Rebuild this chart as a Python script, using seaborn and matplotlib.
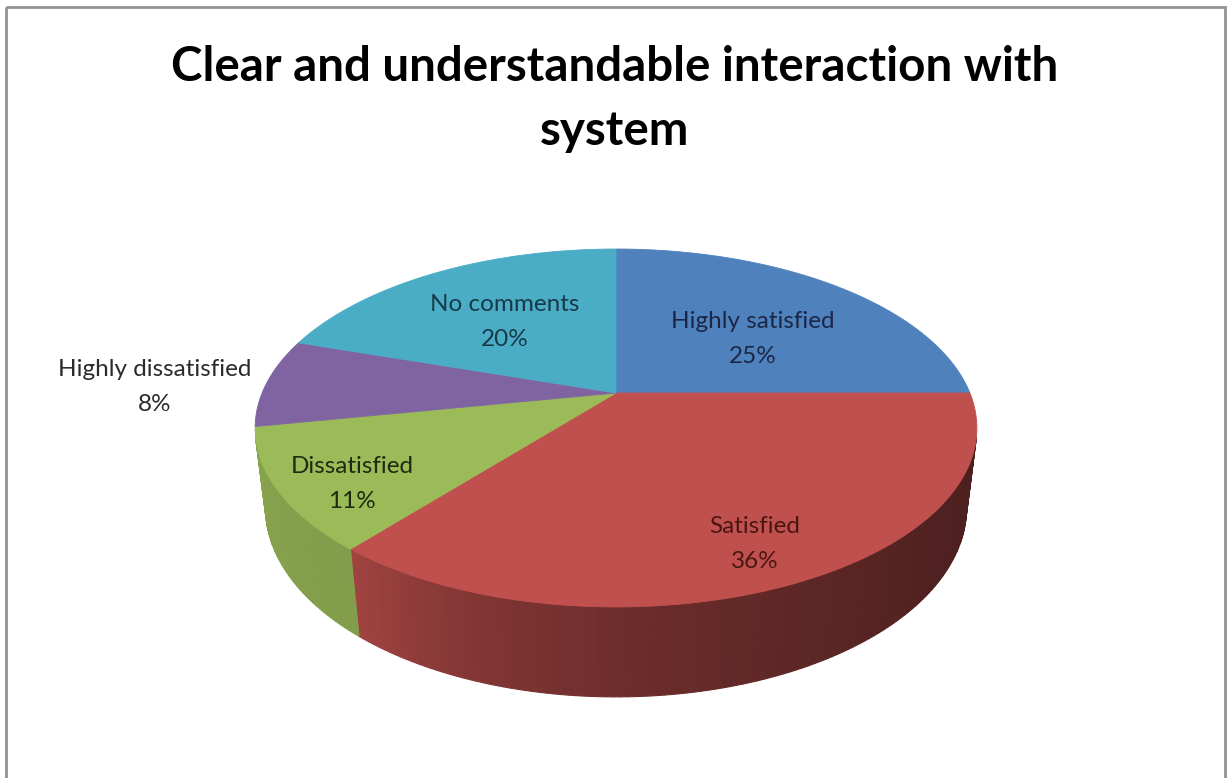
import numpy as np
import matplotlib
matplotlib.use("Agg")
import matplotlib.pyplot as plt
import seaborn as sns
from matplotlib.patches import Polygon, Rectangle

# ---- data -------------------------------------------------------------
categories = ["Highly satisfied", "Satisfied", "Dissatisfied",
              "Highly dissatisfied", "No comments"]
shares = [25, 36, 11, 8, 20]
slice_colors = ["#4F81BD", "#C0504D", "#9BBB59", "#8064A2", "#4BACC6"]
title_text = "Clear and understandable interaction with\nsystem"

# ---- style ------------------------------------------------------------
sns.set_theme(style="white")
plt.rcParams["font.family"] = ["Lato", "DejaVu Sans"]

W, H = 1228, 778
fig = plt.figure(figsize=(W / 100, H / 100), dpi=100)
fig.patch.set_facecolor("white")
ax = fig.add_axes([0, 0, 1, 1])
ax.set_xlim(0, W)
ax.set_ylim(H, 0)
ax.axis("off")

# chart frame
ax.add_patch(Rectangle((6, 7), 1219, 800, fill=False, edgecolor="#939393",
                       lw=2.0, zorder=1))

# ---- perspective projection of a cylinder (unit radius) --------------
TILT = np.radians(29.1)
DIST = 4.47
FOCAL = 1582.0
CX, CY = 616.0, 393.0
THICK = 0.262


def project(theta, r=1.0, z=0.0):
    """theta measured clockwise from the back of the pie."""
    X = r * np.sin(theta)
    Y = r * np.cos(theta)
    s, c = np.sin(TILT), np.cos(TILT)
    up = Y * s + z * c
    d = DIST + Y * c - z * s
    return CX + FOCAL * X / d, CY - FOCAL * up / d


def wall_shade(theta_deg):
    return np.interp(theta_deg, [95, 130, 160, 180, 200, 220, 262],
                     [0.38, 0.42, 0.50, 0.57, 0.68, 0.84, 0.88])


total = float(sum(shares))
bounds = np.concatenate([[0], np.cumsum(shares)]) / total * 2 * np.pi
vis_lim = -1.0 / (DIST * np.cos(TILT))

# outer walls first (only faces turned toward the viewer)
for k, (a0, a1) in enumerate(zip(bounds[:-1], bounds[1:])):
    base = np.array(matplotlib.colors.to_rgb(slice_colors[k]))
    n = max(int(np.degrees(a1 - a0)), 2)
    ts = np.linspace(a0, a1, n + 1)
    for t0, t1 in zip(ts[:-1], ts[1:]):
        tm = 0.5 * (t0 + t1)
        if np.cos(tm) > vis_lim + 0.02:
            continue
        p = [project(t0), project(t1), project(t1, z=-THICK), project(t0, z=-THICK)]
        col = np.clip(base * wall_shade(np.degrees(tm)), 0, 1)
        ax.add_patch(Polygon(p, closed=True, facecolor=col, edgecolor=col,
                             lw=0.8, zorder=2))

# top faces
for k, (a0, a1) in enumerate(zip(bounds[:-1], bounds[1:])):
    ts = np.linspace(a0, a1, 200)
    xs, ys = project(ts)
    pts = np.column_stack([np.r_[CX, xs], np.r_[CY, ys]])
    ax.add_patch(Polygon(pts, closed=True, facecolor=slice_colors[k],
                         edgecolor=slice_colors[k], lw=0.6, zorder=3))

# ---- labels -----------------------------------------------------------
label_pos = [(753, 339), (755, 544), (352, 484), (155, 387), (505, 322)]
label_ink = ["#1b2747", "#4a1614", "#1f2a10", "#2b2b2b", "#163a48"]
for k, name in enumerate(categories):
    x, y = label_pos[k]
    ax.text(x, y, f"{name}\n{shares[k]}%", ha="center", va="center",
            fontsize=17.5, color=label_ink[k], linespacing=1.8, zorder=5)

# ---- title (sized to span the heading width) --------------------------
t = ax.text(615, 99, title_text, ha="center", va="center",
            fontsize=36, fontweight="bold", color="black",
            linespacing=1.58, zorder=5)
fig.canvas.draw()
first = ax.text(0, 0, title_text.split("\n")[0], fontsize=36,
                fontweight="bold")
w = first.get_window_extent(fig.canvas.get_renderer()).width
first.remove()
t.set_fontsize(36 * 887.0 / w)

fig.savefig("out.png", dpi=100, facecolor="white")
